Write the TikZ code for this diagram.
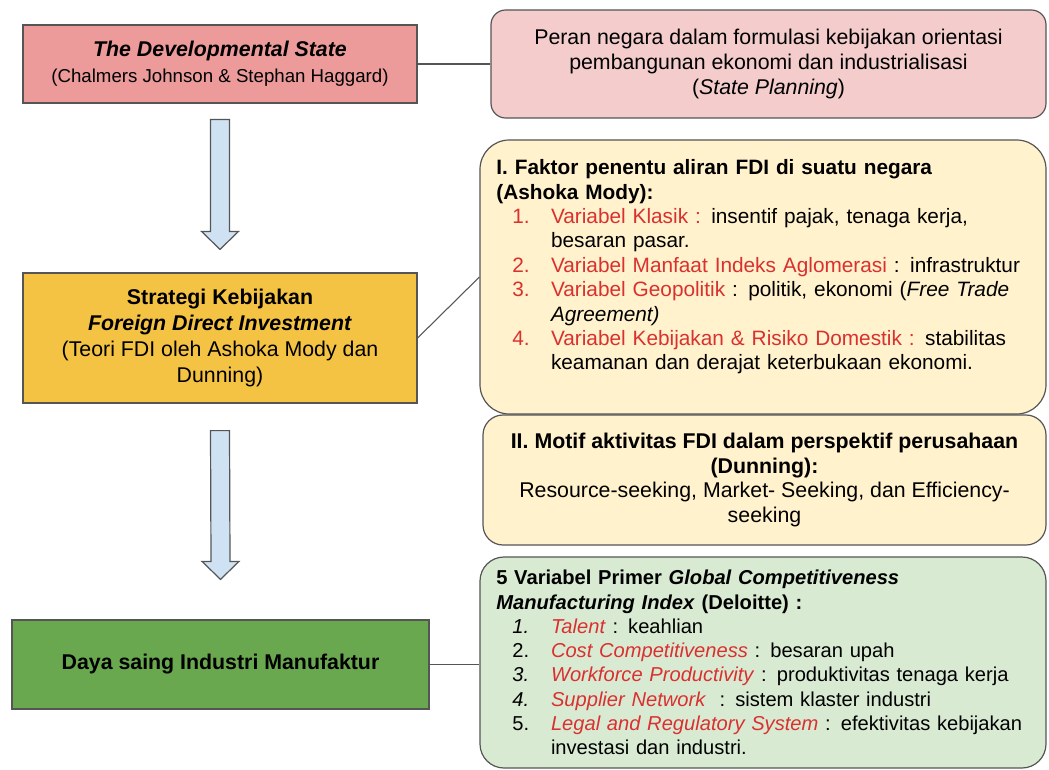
\documentclass[tikz,border=0pt]{standalone}
\usepackage{fontspec}
\setmainfont{Liberation Sans}
\usetikzlibrary{positioning,calc}

\definecolor{boxline}{HTML}{555555}
\definecolor{devred}{HTML}{EC9A9A}
\definecolor{planpink}{HTML}{F4CCCC}
\definecolor{fdiyellow}{HTML}{F5C343}
\definecolor{fdicream}{HTML}{FFF2CC}
\definecolor{dayagreen}{HTML}{6AA84F}
\definecolor{gcmigreen}{HTML}{D9EAD3}
\definecolor{arrowblue}{HTML}{CFE2F3}
\definecolor{itemred}{HTML}{D93030}

% list lines inside the right boxes
\newcommand{\nitem}[2]{\hspace*{12pt}\mbox{\makebox[29pt][l]{#1}#2}}
\newcommand{\ncont}[1]{\hspace*{41pt}\mbox{#1}}

\begin{document}
\begin{tikzpicture}
[x=0.75pt,y=-0.75pt,
 every node/.style={font=\fontsize{16}{18.4}\selectfont},
 leftbox/.style={draw=boxline,line width=0.9pt,align=center,inner sep=0pt},
 rightbox/.style={draw=boxline,line width=0.9pt,rounded corners=11pt,align=center,inner sep=0pt},
 listbox/.style={rightbox,align=left,text width=400pt},
 link/.style={draw=boxline,line width=0.8pt},
 blockarrow/.style={draw=boxline,line width=0.9pt,fill=arrowblue}]
\useasboundingbox (0,0) rectangle (1049,770);

% left column
\node[leftbox,fill=devred,minimum width=295.5pt,minimum height=58.5pt] (devstate) at (220,64)
    {\textbf{\textit{The Developmental State}}\\[1pt]{\fontsize{14}{18}\selectfont(Chalmers Johnson \& Stephan Haggard)}};
\node[leftbox,fill=fdiyellow,minimum width=295.5pt,minimum height=97.5pt,
      font=\fontsize{16}{19.5}\selectfont] (strategi) at (220,338)
    {\textbf{Strategi Kebijakan}\\\textbf{\textit{Foreign Direct Investment}}\\(Teori FDI oleh Ashoka Mody dan\\Dunning)};
\node[leftbox,fill=dayagreen,minimum width=312.75pt,minimum height=66.75pt] (daya) at (220.5,664.5)
    {\textbf{Daya saing Industri Manufaktur}};

% right column
\node[rightbox,fill=planpink,minimum width=416.25pt,minimum height=81pt] (planning) at (768.5,64)
    {Peran negara dalam formulasi kebijakan orientasi\\pembangunan ekonomi dan industrialisasi\\(\textit{State Planning})};
\node[listbox,fill=fdicream,rounded corners=22pt,minimum width=424.5pt,minimum height=205.5pt,
      font=\fontsize{15.6}{18.3}\selectfont] (faktor) at (763,277)
    {\textbf{I. Faktor penentu aliran FDI di suatu negara}\\
     \textbf{(Ashoka Mody):}\\
     \nitem{\textcolor{itemred}{1.}}{\textcolor{itemred}{Variabel Klasik :} insentif pajak, tenaga kerja,}\\
     \ncont{besaran pasar.}\\
     \nitem{\textcolor{itemred}{2.}}{\textcolor{itemred}{Variabel Manfaat Indeks Aglomerasi} : infrastruktur}\\
     \nitem{\textcolor{itemred}{3.}}{\textcolor{itemred}{Variabel Geopolitik} : politik, ekonomi (\textit{Free Trade}}\\
     \ncont{\textit{Agreement)}}\\
     \nitem{\textcolor{itemred}{4.}}{\textcolor{itemred}{Variabel Kebijakan \& Risiko Domestik :} stabilitas}\\
     \ncont{keamanan dan derajat keterbukaan ekonomi.}\\
     \mbox{}};
\node[rightbox,fill=fdicream,rounded corners=15pt,minimum width=422.25pt,minimum height=97.5pt] (motif) at (764.5,480)
    {\textbf{II. Motif aktivitas FDI dalam perspektif perusahaan}\\\textbf{(Dunning):}\\
     Resource-seeking, Market- Seeking, dan Efficiency-\\seeking};
\node[listbox,fill=gcmigreen,rounded corners=18pt,minimum width=424.5pt,minimum height=158.25pt,
      font=\fontsize{15.1}{18.2}\selectfont] (gcmi) at (763,662.5)
    {\textbf{5 Variabel Primer \textit{Global Competitiveness}}\\
     \textbf{\textit{Manufacturing Index} (Deloitte) :}\\
     \nitem{\textit{1.}}{\textcolor{itemred}{\textit{Talent}} : keahlian}\\
     \nitem{2.}{\textcolor{itemred}{\textit{Cost Competitiveness}} : besaran upah}\\
     \nitem{\textit{3.}}{\textcolor{itemred}{\textit{Workforce Productivity}} : produktivitas tenaga kerja}\\
     \nitem{\textit{4.}}{\textcolor{itemred}{\textit{Supplier Network}}\ \ : sistem klaster industri}\\
     \nitem{5.}{\textcolor{itemred}{\textit{Legal and Regulatory System}} : efektivitas kebijakan}\\
     \ncont{investasi dan industri.}};

% connectors
\draw[link] (devstate.east) -- (planning.west);
\draw[link] (strategi.east) -- (faktor.west);
\draw[link] (daya.east) -- (daya.east -| gcmi.west);

% block arrows down the left column
\foreach \from/\to/\gapa/\gapb in {devstate/strategi/16/23, strategi/daya/27/40} {
  \coordinate (top) at ($(\from.south)+(0,\gapa)$);
  \coordinate (tip) at ($(\to.north)+(0,-\gapb)$);
  \draw[blockarrow] ($(top)+(-9.5,0)$) -- ($(tip)+(-9.5,-18)$) -- ($(tip)+(-18.5,-18)$) -- (tip)
    -- ($(tip)+(18.5,-18)$) -- ($(tip)+(9.5,-18)$) -- ($(top)+(9.5,0)$) -- cycle;
}
\end{tikzpicture}
\end{document}
